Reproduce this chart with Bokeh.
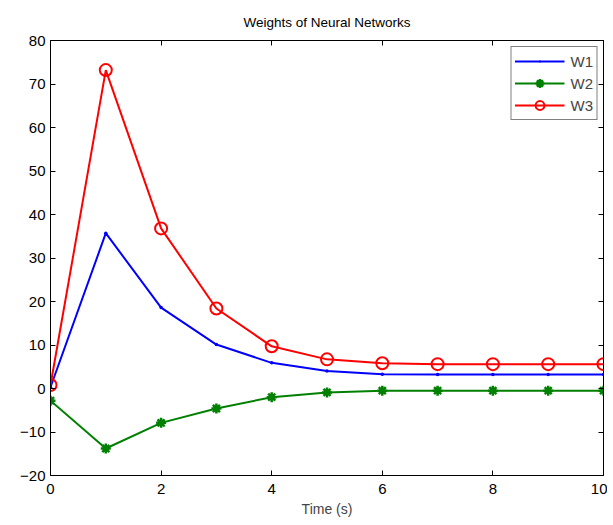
from bokeh.plotting import figure
from bokeh.models import (LinearAxis, Range1d, FixedTicker, Legend, LegendItem,
                          CustomJSTickFormatter)
from bokeh.embed import file_html
from bokeh.resources import INLINE

time = [0, 1, 2, 3, 4, 5, 6, 7, 8, 9, 10]
w1 = [0.3, 35.7, 18.6, 10.1, 5.9, 4.0, 3.3, 3.2, 3.2, 3.2, 3.2]
w2 = [-2.8, -13.8, -7.9, -4.6, -2.0, -0.9, -0.5, -0.5, -0.5, -0.5, -0.5]
w3 = [0.8, 73.2, 36.8, 18.4, 9.7, 6.7, 5.8, 5.6, 5.6, 5.6, 5.6]
x_ticks = [0, 2, 4, 6, 8, 10]
y_ticks = [-20, -10, 0, 10, 20, 30, 40, 50, 60, 70, 80]

FONT = "Liberation Sans"

p = figure(width=607, height=519, output_backend="svg", toolbar_location=None,
           x_range=Range1d(0, 10), y_range=Range1d(-20, 80),
           min_border_left=50, min_border_right=4, min_border_top=40, min_border_bottom=41,
           title="Weights of Neural Networks")
p.title.align = "center"
p.title.text_font = FONT
p.title.text_font_size = "13.5px"
p.title.text_font_style = "normal"
p.title.text_color = "black"
p.title.standoff = 22

p.xgrid.visible = False
p.ygrid.visible = False
p.outline_line_color = "black"
p.outline_line_width = 1

for ax in (p.xaxis[0], p.yaxis[0]):
    ax.major_tick_in = 5
    ax.major_tick_out = 0
    ax.minor_tick_line_color = None
    ax.major_label_text_font = FONT
    ax.major_label_text_font_size = "15px"
    ax.major_label_text_color = "black"
    ax.axis_line_color = "black"
    ax.major_tick_line_color = "black"
p.xaxis[0].ticker = FixedTicker(ticks=x_ticks)
p.yaxis[0].ticker = FixedTicker(ticks=y_ticks)
p.xaxis[0].axis_label = "Time (s)"
p.xaxis[0].axis_label_text_font = FONT
p.xaxis[0].axis_label_text_font_size = "14px"
p.xaxis[0].axis_label_text_font_style = "normal"
p.xaxis[0].axis_label_standoff = 4
p.xaxis[0].major_label_standoff = 8
p.yaxis[0].major_label_standoff = 5

blank = CustomJSTickFormatter(code="return ''")
ax_r = LinearAxis(ticker=FixedTicker(ticks=y_ticks), major_tick_in=5, major_tick_out=0,
                  minor_tick_line_color=None, formatter=blank, major_label_standoff=0)
ax_t = LinearAxis(ticker=FixedTicker(ticks=x_ticks), major_tick_in=5, major_tick_out=0,
                  minor_tick_line_color=None, formatter=blank, major_label_standoff=0)
p.add_layout(ax_r, "right")
p.add_layout(ax_t, "above")

l1 = p.line(time, w1, line_color="#0000ff", line_width=2)
m1 = p.scatter(time, w1, marker="dot", size=14, line_color="#0000ff", line_width=1.5)
l2 = p.line(time, w2, line_color="#008000", line_width=2)
m2 = p.scatter(time, w2, marker="asterisk", size=10, line_color="#008000", line_width=2.5)
l3 = p.line(time, w3, line_color="#ff0000", line_width=2)
m3 = p.scatter(time, w3, marker="circle", size=12, fill_color=None, line_color="#ff0000", line_width=2)

legend = Legend(items=[LegendItem(label="W1", renderers=[l1, m1]),
                       LegendItem(label="W2", renderers=[l2, m2]),
                       LegendItem(label="W3", renderers=[l3, m3])],
                location="top_right")
legend.label_text_font = FONT
legend.label_text_font_size = "15px"
legend.border_line_color = "black"
legend.border_line_width = 1
legend.glyph_width = 50
legend.glyph_height = 22
legend.label_height = 20
legend.spacing = 0
legend.padding = 3
legend.margin = 6
legend.label_standoff = 6
p.add_layout(legend)

open("out.html", "w").write(file_html(p, INLINE))
